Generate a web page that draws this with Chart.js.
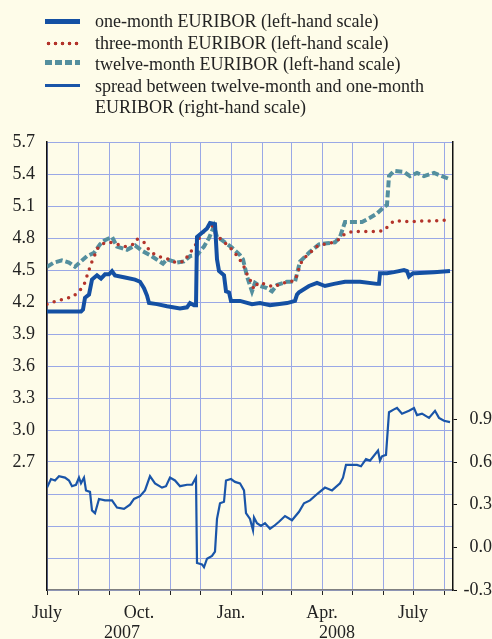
<!DOCTYPE html>
<html>
<head>
<meta charset="utf-8">
<script src="https://cdn.jsdelivr.net/npm/chart.js@4/dist/chart.umd.min.js"></script>
<style>
  body { margin: 0; background: #fefce9; }
  #wrap { position: relative; width: 492px; height: 639px; overflow: hidden; background: #fefce9; }
  #chart { position: absolute; left: 0; top: 0; }
  #legend { position: absolute; left: 0; top: 11px; font-family: 'Liberation Serif', serif; font-size: 18px; color: #222; line-height: 21.6px; }
  .row { position: relative; padding-left: 95px; white-space: nowrap; }
  .sw { position: absolute; left: 45px; width: 35px; }
</style>
</head>
<body>
<div id="wrap">
  <canvas id="chart" width="492" height="639"></canvas>
  <div id="legend"></div>
</div>
<script>
// x values are days counted from 1 July 2007
const oneMonthDays = [0, 20, 34, 36, 38, 42, 45, 50, 54, 58, 62, 65, 68, 78, 88, 93, 97, 100, 102, 110, 120, 133, 140, 143, 147, 149, 150, 155, 160, 163, 168, 170, 172, 177, 179, 182, 184, 193, 205, 213, 223, 240, 248, 250, 252, 262, 270, 278, 287, 298, 313, 330, 332, 333, 340, 347, 357, 360, 362, 366, 368, 387, 403];
const oneMonthRates = [4.11, 4.11, 4.11, 4.13, 4.24, 4.27, 4.41, 4.45, 4.42, 4.46, 4.46, 4.49, 4.45, 4.43, 4.41, 4.39, 4.33, 4.26, 4.19, 4.18, 4.16, 4.14, 4.15, 4.19, 4.17, 4.17, 4.81, 4.85, 4.89, 4.94, 4.93, 4.60, 4.49, 4.45, 4.30, 4.29, 4.21, 4.21, 4.18, 4.19, 4.17, 4.19, 4.21, 4.27, 4.29, 4.35, 4.38, 4.35, 4.37, 4.39, 4.39, 4.37, 4.37, 4.47, 4.47, 4.48, 4.50, 4.49, 4.44, 4.47, 4.47, 4.48, 4.49];

const threeMonthDays = [0, 10, 18, 26, 33, 37, 42, 45, 51, 57, 63, 71, 78, 86, 90, 97, 102, 107, 114, 122, 129, 137, 142, 147, 151, 155, 159, 164, 169, 176, 182, 187, 192, 197, 200, 203, 207, 211, 218, 227, 233, 242, 248, 251, 253, 257, 263, 270, 277, 283, 291, 297, 305, 320, 330, 337, 342, 347, 355, 363, 372, 388, 404];
const threeMonthRates = [4.18, 4.21, 4.23, 4.25, 4.31, 4.36, 4.50, 4.58, 4.71, 4.75, 4.76, 4.74, 4.72, 4.74, 4.79, 4.76, 4.69, 4.65, 4.62, 4.60, 4.57, 4.58, 4.65, 4.71, 4.78, 4.84, 4.88, 4.94, 4.83, 4.77, 4.72, 4.67, 4.61, 4.53, 4.46, 4.41, 4.32, 4.38, 4.37, 4.34, 4.37, 4.39, 4.40, 4.48, 4.55, 4.61, 4.66, 4.72, 4.74, 4.75, 4.78, 4.83, 4.86, 4.86, 4.86, 4.87, 4.92, 4.96, 4.96, 4.95, 4.96, 4.96, 4.97];

const twelveMonthDays = [0, 7, 15, 22, 28, 35, 40, 47, 53, 58, 65, 70, 80, 88, 95, 103, 116, 120, 130, 137, 143, 150, 157, 162, 167, 170, 175, 185, 193, 196, 200, 205, 208, 213, 220, 225, 230, 240, 248, 253, 263, 272, 280, 288, 293, 298, 307, 315, 323, 330, 337, 340, 342, 347, 357, 363, 370, 377, 387, 395, 403];
const twelveMonthRates = [4.53, 4.57, 4.59, 4.57, 4.53, 4.59, 4.63, 4.66, 4.74, 4.78, 4.81, 4.72, 4.69, 4.73, 4.68, 4.64, 4.56, 4.60, 4.57, 4.58, 4.63, 4.64, 4.72, 4.80, 4.91, 4.81, 4.78, 4.71, 4.64, 4.60, 4.44, 4.30, 4.38, 4.35, 4.33, 4.30, 4.36, 4.39, 4.39, 4.58, 4.67, 4.74, 4.75, 4.76, 4.81, 4.95, 4.95, 4.95, 4.99, 5.03, 5.09, 5.11, 5.38, 5.43, 5.42, 5.38, 5.41, 5.38, 5.41, 5.38, 5.35];

const spreadDays = [0, 4, 8, 12, 18, 22, 25, 29, 32, 34, 37, 39, 43, 45, 48, 52, 58, 65, 70, 77, 83, 87, 93, 98, 103, 108, 115, 119, 123, 128, 133, 140, 145, 149, 150, 155, 157, 160, 165, 168, 170, 173, 177, 179, 184, 188, 193, 197, 199, 203, 206, 207, 210, 214, 218, 223, 227, 232, 238, 245, 252, 257, 263, 271, 278, 285, 293, 296, 299, 305, 310, 314, 319, 323, 331, 333, 335, 339, 342, 347, 350, 355, 362, 367, 370, 375, 382, 388, 392, 397, 403];
const spreadValues = [0.42, 0.48, 0.47, 0.50, 0.49, 0.47, 0.43, 0.44, 0.49, 0.45, 0.49, 0.40, 0.39, 0.26, 0.24, 0.34, 0.33, 0.33, 0.28, 0.27, 0.30, 0.34, 0.36, 0.40, 0.50, 0.45, 0.42, 0.43, 0.49, 0.47, 0.43, 0.44, 0.44, 0.49, -0.11, -0.12, -0.14, -0.08, -0.06, -0.03, 0.20, 0.31, 0.32, 0.47, 0.48, 0.46, 0.45, 0.40, 0.24, 0.20, 0.12, 0.21, 0.17, 0.15, 0.17, 0.13, 0.15, 0.18, 0.22, 0.19, 0.25, 0.31, 0.33, 0.38, 0.42, 0.40, 0.45, 0.49, 0.58, 0.58, 0.58, 0.57, 0.62, 0.61, 0.68, 0.61, 0.64, 0.65, 0.95, 0.97, 0.98, 0.94, 0.96, 0.98, 0.93, 0.94, 0.91, 0.96, 0.91, 0.89, 0.88];

// month starts (days from 1 July 2007) and their labels
const monthTicks = [0, 31, 62, 92, 123, 153, 184, 215, 244, 275, 305, 336, 366, 397];
const monthLabels = ['July', '', '', 'Oct.', '', '', 'Jan.', '', '', 'Apr.', '', '', 'July', ''];
const yearLabels = ['2007', '2008'];
const yearLabelDays = [75, 290];
const rightTicks = [-0.3, 0, 0.3, 0.6, 0.9];

const legendItems = [
    { text: 'one-month EURIBOR (left-hand scale)', swatch: 'top:8px;height:5px;background:#1450a3;' },
    { text: 'three-month EURIBOR (left-hand scale)', swatch: 'top:8px;height:5px;background:radial-gradient(circle, #b3342b 1.6px, transparent 2.1px) 0 0/7px 5px repeat-x;' },
    { text: 'twelve-month EURIBOR (left-hand scale)', swatch: 'top:6px;height:5px;background:repeating-linear-gradient(90deg, #548f9e 0 7px, transparent 7px 10px);' },
    { text: 'spread between twelve-month and one-month<br>EURIBOR (right-hand scale)', swatch: 'top:8px;height:3px;background:#1a55a8;' }
];

function toPoints(days, values) {
    return days.map((d, i) => ({ x: d, y: values[i] }));
}

function buildLegend() {
    const box = document.getElementById('legend');
    legendItems.forEach(item => {
        const row = document.createElement('div');
        row.className = 'row';
        row.innerHTML = `<span class="sw" style="${item.swatch}"></span>${item.text}`;
        box.appendChild(row);
    });
}

const tickFont = { family: 'Liberation Serif', size: 18 };

const yearPlugin = {
    id: 'yearLabels',
    afterDraw(chart) {
        const ctx = chart.ctx;
        const xs = chart.scales.x;
        ctx.save();
        ctx.font = '18px "Liberation Serif"';
        ctx.fillStyle = '#222';
        ctx.textAlign = 'center';
        ctx.textBaseline = 'top';
        yearLabels.forEach((t, i) => {
            ctx.fillText(t, xs.getPixelForValue(yearLabelDays[i]), 624);
        });
        ctx.restore();
    }
};

function loadGraph() {
    const config = {
        type: 'line',
        data: {
            datasets: [
                {
                    label: 'one-month EURIBOR (left-hand scale)',
                    data: toPoints(oneMonthDays, oneMonthRates),
                    yAxisID: 'y',
                    borderColor: '#1450a3',
                    borderWidth: 4,
                    pointRadius: 0,
                    tension: 0
                },
                {
                    label: 'three-month EURIBOR (left-hand scale)',
                    data: toPoints(threeMonthDays, threeMonthRates),
                    yAxisID: 'y',
                    borderColor: '#b3342b',
                    borderWidth: 3.5,
                    borderDash: [0, 7.5],
                    borderCapStyle: 'round',
                    pointRadius: 0,
                    tension: 0
                },
                {
                    label: 'twelve-month EURIBOR (left-hand scale)',
                    data: toPoints(twelveMonthDays, twelveMonthRates),
                    yAxisID: 'y',
                    borderColor: '#548f9e',
                    borderWidth: 4,
                    borderDash: [7, 3],
                    pointRadius: 0,
                    tension: 0
                },
                {
                    label: 'spread between twelve-month and one-month EURIBOR (right-hand scale)',
                    data: toPoints(spreadDays, spreadValues),
                    yAxisID: 'y1',
                    borderColor: '#1a55a8',
                    borderWidth: 2.2,
                    pointRadius: 0,
                    tension: 0
                }
            ]
        },
        options: {
            responsive: false,
            animation: false,
            layout: { padding: { top: 142, left: 0, right: 0, bottom: 0 } },
            scales: {
                x: {
                    type: 'linear',
                    min: 0,
                    max: 406,
                    afterBuildTicks: scale => { scale.ticks = monthTicks.map(v => ({ value: v })); },
                    afterFit: scale => { scale.height = 49; },
                    grid: { color: '#9aa8e6', lineWidth: 1, drawTicks: true, tickLength: 5, tickColor: '#222' },
                    border: { color: '#808080', width: 1.5 },
                    ticks: {
                        autoSkip: false,
                        maxRotation: 0,
                        padding: 7,
                        color: '#222',
                        font: tickFont,
                        callback: (value, index) => monthLabels[index]
                    }
                },
                y: {
                    position: 'left',
                    min: 1.5,
                    max: 5.7,
                    afterFit: scale => { scale.width = 47; },
                    grid: { color: '#9aa8e6', lineWidth: 1, drawTicks: false },
                    border: { color: '#111', width: 1.5 },
                    ticks: {
                        stepSize: 0.3,
                        padding: 12,
                        color: '#222',
                        font: tickFont,
                        callback: value => value >= 2.65 ? value.toFixed(1) : ''
                    }
                },
                y1: {
                    position: 'right',
                    min: -0.3,
                    max: 2.85,
                    afterBuildTicks: scale => { scale.ticks = rightTicks.map(v => ({ value: v })); },
                    afterFit: scale => { scale.width = 39; },
                    grid: { drawOnChartArea: false, drawTicks: true, tickLength: 4, tickColor: '#111' },
                    border: { color: '#111', width: 1.5 },
                    ticks: {
                        padding: 4,
                        crossAlign: 'far',
                        color: '#222',
                        font: tickFont,
                        callback: value => value.toFixed(1)
                    }
                }
            },
            plugins: {
                legend: { display: false },
                tooltip: { enabled: false }
            }
        },
        plugins: [yearPlugin]
    };

    const ctx = document.getElementById('chart').getContext('2d');
    new Chart(ctx, config);
}

buildLegend();
loadGraph();
</script>
</body>
</html>
